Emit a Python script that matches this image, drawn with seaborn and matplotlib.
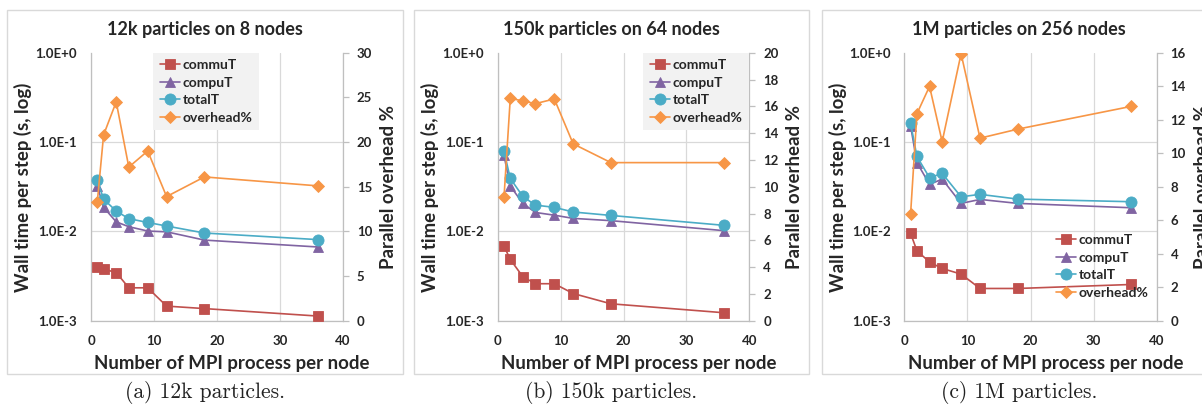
import numpy as np
import pandas as pd
import matplotlib
matplotlib.use("Agg")
import matplotlib.pyplot as plt
from matplotlib.patches import Rectangle
from matplotlib.ticker import FixedLocator, FixedFormatter, NullLocator
import seaborn as sns

# ---- data -------------------------------------------------------------
procs = [1, 2, 4, 6, 9, 12, 18, 36]

titles = ["12k particles on 8 nodes", "150k particles on 64 nodes", "1M particles on 256 nodes"]
captions = ["(a) 12k particles.", "(b) 150k particles.", "(c) 1M particles."]

commu_12k = [3.95e-3, 3.79e-3, 3.47e-3, 2.34e-3, 2.34e-3, 1.46e-3, 1.37e-3, 1.13e-3]
compu_12k = [0.0324, 0.0186, 0.0128, 0.0113, 0.0101, 0.0099, 0.0080, 0.0067]
total_12k = [0.0376, 0.0230, 0.0169, 0.0139, 0.0126, 0.0115, 0.0096, 0.0081]
overhead_12k = [13.3, 20.8, 24.5, 17.2, 19.0, 13.9, 16.1, 15.1]

commu_150k = [6.85e-3, 4.86e-3, 3.11e-3, 2.60e-3, 2.60e-3, 2.02e-3, 1.55e-3, 1.23e-3]
compu_150k = [0.071, 0.0322, 0.0206, 0.0163, 0.0152, 0.0140, 0.0132, 0.0102]
total_150k = [0.079, 0.0392, 0.0246, 0.0197, 0.0186, 0.0165, 0.0151, 0.0117]
overhead_150k = [9.2, 16.6, 16.4, 16.2, 16.55, 13.2, 11.8, 11.8]

commu_1m = [9.5e-3, 6.08e-3, 4.54e-3, 3.85e-3, 3.33e-3, 2.30e-3, 2.30e-3, 2.55e-3]
compu_1m = [0.151, 0.059, 0.0336, 0.0385, 0.0206, 0.0228, 0.0206, 0.0184]
total_1m = [0.162, 0.069, 0.0399, 0.0446, 0.0244, 0.0260, 0.0230, 0.0215]
overhead_1m = [6.4, 12.36, 13.99, 10.69, 15.94, 10.9, 11.44, 12.8]

overhead_max = [30, 20, 16]
overhead_step = [5, 2, 2]

time_ticks = [1e-3, 1e-2, 1e-1, 1e0]
time_tick_labels = ["1.0E-3", "1.0E-2", "1.0E-1", "1.0E+0"]
x_ticks = [0, 10, 20, 30, 40]

series_names = ["commuT", "compuT", "totalT", "overhead%"]

# ---- style -------------------------------------------------------------
sns.set_style("white")
plt.rcParams["font.family"] = ["Lato", "DejaVu Sans"]
plt.rcParams["font.weight"] = "bold"

colors = {"commuT": "#C0504D", "compuT": "#8064A2", "totalT": "#4BACC6", "overhead%": "#F79646"}
markers = {"commuT": "s", "compuT": "^", "totalT": "o", "overhead%": "D"}
msizes = {"commuT": 7.4, "compuT": 7.6, "totalT": 8.0, "overhead%": 6.0}
grid_c = "#D9D9D9"
axis_c = "#BFBFBF"

W, H = 1202, 404
fig = plt.figure(figsize=(W / 100, H / 100), dpi=100)

def fx(px):
    return px / W

def fy(py):
    return 1 - py / H

# panel geometry in pixels: box left, box right, axes left, axes right
boxes = [(7, 403, 91, 343), (414, 809, 497.7, 749.3), (822, 1216, 904.3, 1156.7)]
ax_top, ax_bot = 52.7, 320.8
legend_pos = [(206, 91.5, True), (696, 91.5, True), (1102, 266.5, False)]

panels = [
    (commu_12k, compu_12k, total_12k, overhead_12k),
    (commu_150k, compu_150k, total_150k, overhead_150k),
    (commu_1m, compu_1m, total_1m, overhead_1m),
]

for i, (commu, compu, total, overhead) in enumerate(panels):
    bl, br, al, ar = boxes[i]
    # light frame around each chart
    fig.patches.append(Rectangle((fx(bl), fy(374)), fx(br - bl), (374 - 10) / H,
                                 transform=fig.transFigure, fill=False,
                                 edgecolor=grid_c, linewidth=1.0, zorder=0))

    ax = fig.add_axes([fx(al), fy(ax_bot), fx(ar - al), (ax_bot - ax_top) / H])
    ax.set_yscale("log")
    ax.set_ylim(1e-3, 1)
    ax.set_xlim(0, 40)

    df = pd.DataFrame({
        "procs": procs * 3,
        "time": commu + compu + total,
        "series": ["commuT"] * 8 + ["compuT"] * 8 + ["totalT"] * 8,
    })
    for name in ["commuT", "compuT", "totalT"]:
        sub = df[df["series"] == name]
        sns.lineplot(data=sub, x="procs", y="time", ax=ax, color=colors[name],
                     marker=markers[name], markersize=msizes[name],
                     markeredgewidth=0.6, markeredgecolor=colors[name],
                     linewidth=1.2, label=name, legend=False, zorder=3)

    ax.yaxis.set_major_locator(FixedLocator(time_ticks))
    ax.yaxis.set_major_formatter(FixedFormatter(time_tick_labels))
    ax.yaxis.set_minor_locator(NullLocator())
    ax.set_xticks(x_ticks)
    ax.grid(True, color=grid_c, linewidth=0.9)
    ax.set_axisbelow(True)
    # no gridline along the top edge of the plot area
    ax.yaxis.get_major_ticks()[-1].gridline.set_visible(False)
    for s in ["top", "right"]:
        ax.spines[s].set_visible(False)
    for s in ["left", "bottom"]:
        ax.spines[s].set_color(axis_c)
        ax.spines[s].set_linewidth(0.9)
    ax.tick_params(axis="both", length=0, labelsize=9.5)
    ax.tick_params(axis="y", pad=10)
    ax.tick_params(axis="x", pad=10)
    ax.set_xlabel("")
    ax.set_ylabel("")
    for lab in ax.get_xticklabels() + ax.get_yticklabels():
        lab.set_fontweight("bold")

    ax2 = ax.twinx()
    sns.lineplot(x=procs, y=overhead, ax=ax2, color=colors["overhead%"],
                 marker=markers["overhead%"], markersize=msizes["overhead%"],
                 markeredgewidth=0.6, markeredgecolor=colors["overhead%"],
                 linewidth=1.2, label="overhead%", legend=False, zorder=3)
    ax2.set_ylim(0, overhead_max[i])
    ax2.set_yticks(np.arange(0, overhead_max[i] + 0.1, overhead_step[i]))
    ax2.set_ylabel("")
    ax2.grid(False)
    for s in ["top", "left", "bottom"]:
        ax2.spines[s].set_visible(False)
    ax2.spines["right"].set_color(axis_c)
    ax2.spines["right"].set_linewidth(0.9)
    ax2.tick_params(axis="y", length=4, width=0.9, color=axis_c, pad=6, labelsize=9.5)
    for lab in ax2.get_yticklabels():
        lab.set_fontweight("bold")

    handles = ax.get_lines()[:3] + ax2.get_lines()[:1]
    lx, ly, shaded = legend_pos[i]
    leg = ax2.legend(handles, series_names, loc="center",
                     bbox_to_anchor=(fx(lx), fy(ly)), bbox_transform=fig.transFigure,
                     frameon=shaded, fancybox=False, handlelength=1.5,
                     handletextpad=0.15, labelspacing=0.40, borderpad=0.45,
                     prop={"weight": "bold", "size": 10})
    if shaded:
        leg.get_frame().set_facecolor("#F2F2F2")
        leg.get_frame().set_edgecolor("none")
        leg.get_frame().set_alpha(1)
    else:
        leg.set_zorder(1)

    cx = (bl + br) / 2
    fig.text(fx(cx), fy(30), titles[i], ha="center", va="center",
             fontsize=13, fontweight="bold")
    fig.text(fx(bl + 16), fy(187), "Wall time per step (s, log)", rotation=90,
             ha="center", va="center", fontsize=13.4, fontweight="bold")
    fig.text(fx(br - 14), fy(187), "Parallel overhead %", rotation=90,
             ha="center", va="center", fontsize=13.4, fontweight="bold")
    fig.text(fx((al + ar) / 2 + 15), fy(363), "Number of MPI process per node",
             ha="center", va="center", fontsize=13.4, fontweight="bold")
    fig.text(fx(cx), fy(393), captions[i], ha="center", va="center",
             fontsize=15.5, family="cmr10", fontweight="normal", color="#222222")

fig.savefig("out.png", dpi=100)
